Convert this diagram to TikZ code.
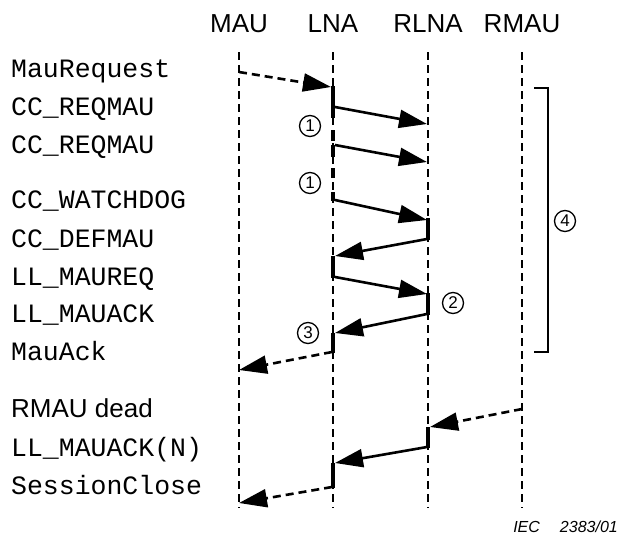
\documentclass[tikz,border=0pt]{standalone}
\usepackage{fontspec}
\setmainfont{Liberation Sans}
\newfontfamily\monofont{Liberation Mono}
\usetikzlibrary{arrows.meta}
\begin{document}
\begin{tikzpicture}[x=1pt,y=-1pt,
  header/.style={font=\fontsize{26}{30}\selectfont, inner sep=0pt, anchor=base},
  msglabel/.style={font=\monofont\fontsize{26.5}{30}\selectfont, inner sep=0pt, anchor=base west},
  sidelabel/.style={font=\fontsize{26}{30}\selectfont, inner sep=0pt, anchor=base west},
  lifeline/.style={line width=1.3pt, dash pattern=on 8pt off 5pt},
  activity/.style={line width=4.5pt},
  msg/.style={line width=2.6pt, -{Triangle[length=28pt,width=18pt]}},
  dmsg/.style={msg, dash pattern=on 8pt off 5pt},
  refmark/.style={circle, draw, line width=1.3pt, minimum size=21pt, inner sep=0pt,
    font=\fontsize{17}{17}\selectfont},
  bracketline/.style={line width=1.5pt}]
\useasboundingbox (0,0) rectangle (619,544);

% lifeline headers
\node[header] (hMAU)  at (239,32) {MAU};
\node[header] (hLNA)  at (333,32) {LNA};
\node[header] (hRLNA) at (428,32) {RLNA};
\node[header] (hRMAU) at (522,32) {RMAU};

% lifelines
\foreach \n/\x in {mau/239, lna/333, rlna/428, rmau/522} {
  \coordinate (\n T) at (\x,52);
  \coordinate (\n B) at (\x,508);
  \draw[lifeline] (\n T) -- (\n B);
}

% message names
\node[msglabel] (l1)  at (11,77)  {MauRequest};
\node[msglabel] (l2)  at (11,115) {CC\_REQMAU};
\node[msglabel] (l3)  at (11,153) {CC\_REQMAU};
\node[msglabel] (l4)  at (11,208) {CC\_WATCHDOG};
\node[msglabel] (l5)  at (11,247) {CC\_DEFMAU};
\node[msglabel] (l6)  at (11,285) {LL\_MAUREQ};
\node[msglabel] (l7)  at (11,322) {LL\_MAUACK};
\node[msglabel] (l8)  at (11,360) {MauAck};
\node[sidelabel] (l9) at (11,417) {RMAU dead};
\node[msglabel] (l10) at (11,456) {LL\_MAUACK(N)};
\node[msglabel] (l11) at (11,494) {SessionClose};

% LNA activity with repeated requests (timer running)
\coordinate (lnaA0) at (333,86);
\coordinate (lnaA1) at (333,201);
\draw[line width=4.5pt, dash pattern=on 32pt off 12pt on 11pt off 4pt on 12pt off 11pt on 10pt off 14pt on 9pt]
  (lnaA0) -- (lnaA1);

% activation bars
\coordinate (rb1a) at (428,218); \coordinate (rb1b) at (428,240);
\coordinate (lb1a) at (333,256); \coordinate (lb1b) at (333,278);
\coordinate (rb2a) at (428,293); \coordinate (rb2b) at (428,315);
\coordinate (lb2a) at (333,333); \coordinate (lb2b) at (333,353);
\coordinate (rb3a) at (428,427); \coordinate (rb3b) at (428,448);
\coordinate (lb3a) at (333,463); \coordinate (lb3b) at (333,488);
\draw[activity] (rb1a) -- (rb1b);
\draw[activity] (lb1a) -- (lb1b);
\draw[activity] (rb2a) -- (rb2b);
\draw[activity] (lb2a) -- (lb2b);
\draw[activity] (rb3a) -- (rb3b);
\draw[activity] (lb3a) -- (lb3b);

% message end points
\coordinate (m1s) at (239,72);  \coordinate (m1e) at (331,87);
\coordinate (m2s) at (335,107); \coordinate (m2e) at (427,124);
\coordinate (m3s) at (335,145); \coordinate (m3e) at (427,162);
\coordinate (m4s) at (335,200); \coordinate (m4e) at (427,220);
\coordinate (m5s) at (427,239); \coordinate (m5e) at (335,256);
\coordinate (m6s) at (335,277); \coordinate (m6e) at (427,294);
\coordinate (m7s) at (427,314); \coordinate (m7e) at (335,333);
\coordinate (m8s) at (332,352); \coordinate (m8e) at (239,370);
\coordinate (m9s) at (522,409); \coordinate (m9e) at (430,427);
\coordinate (m10s) at (427,447); \coordinate (m10e) at (335,463);
\coordinate (m11s) at (332,487); \coordinate (m11e) at (239,503);

% messages
\draw[dmsg] (m1s) -- (m1e);
\draw[msg]  (m2s) -- (m2e);
\draw[msg]  (m3s) -- (m3e);
\draw[msg]  (m4s) -- (m4e);
\draw[msg]  (m5s) -- (m5e);
\draw[msg]  (m6s) -- (m6e);
\draw[msg]  (m7s) -- (m7e);
\draw[dmsg] (m8s) -- (m8e);
\draw[dmsg] (m9s) -- (m9e);
\draw[msg]  (m10s) -- (m10e);
\draw[dmsg] (m11s) -- (m11e);

% bracket over the exchange
\coordinate (br1) at (534,88);
\coordinate (br2) at (548,88);
\coordinate (br3) at (548,352);
\coordinate (br4) at (534,352);
\draw[bracketline] (br1) -- (br2) -- (br3) -- (br4);

% reference marks
\node[refmark] (n1a) at (310,126) {1};
\node[refmark] (n1b) at (310,183) {1};
\node[refmark] (n2)  at (453,303) {2};
\node[refmark] (n3)  at (308,333) {3};
\node[refmark] (n4)  at (565,221) {4};

% figure reference
\node[font=\itshape\fontsize{16}{18}\selectfont, inner sep=0pt, anchor=base east]
  (iec) at (618,532) {IEC\hspace{20pt}2383/01};
\end{tikzpicture}
\end{document}
